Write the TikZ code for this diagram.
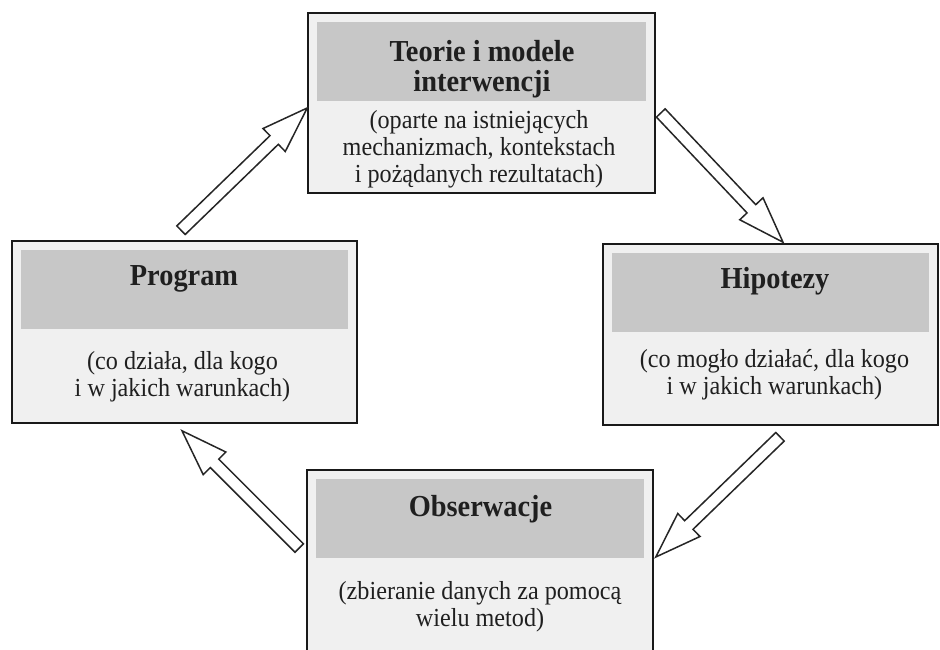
\documentclass[tikz,border=0pt]{standalone}
\usepackage{fontspec}
\usetikzlibrary{calc}
\newfontfamily\boxfont[FakeStretch=0.93]{Liberation Serif}

% outlined block arrow from #1 (tail) to #2 (tip)
\newcommand\blockarrow[2]{%
  \draw[blockarrow] let \p1=($(#2)-(#1)$), \n1={atan2(\y1,\x1)}, \n2={veclen(\x1,\y1)} in
    ($(#1)+(\n1-90:6pt)$) -- ++(\n1:{\n2*1pt-46pt}) -- ++(\n1-90:10pt) -- (#2)
    -- ($(#2)+(\n1+180:46pt)+(\n1+90:16pt)$) -- ++(\n1-90:10pt)
    -- ($(#1)+(\n1+90:6pt)$) -- cycle;}

\tikzset{
  box/.style={draw=black!90, line width=1.6pt, fill=black!6, inner sep=0pt},
  header/.style={fill=black!22},
  titletext/.style={font=\boxfont\bfseries\fontsize{30.5}{30}\selectfont, align=center, inner sep=0pt, text=black!88},
  bodytext/.style={font=\boxfont\fontsize{26}{27}\selectfont, align=center, inner sep=0pt, text=black!88},
  blockarrow/.style={draw=black!85, line width=1.5pt, fill=white, line join=miter}
}

\begin{document}
\begin{tikzpicture}[x=1pt,y=1pt]
\useasboundingbox[fill=white] (0,0) rectangle (940,649);

% boxes
\node[box, minimum width=347pt, minimum height=180pt] (teorie) at (481.5,546) {};
\node[box, minimum width=345pt, minimum height=182pt] (program) at (184.5,317) {};
\node[box, minimum width=335pt, minimum height=181pt] (hipotezy) at (770.5,314.5) {};
\node[box, minimum width=346pt, minimum height=195pt] (obserwacje) at (480,81.5) {};

% grey header bands
\foreach \b in {teorie,program,hipotezy,obserwacje}
  \fill[header] ($(\b.north west)+(10,-10)$) rectangle ($(\b.north east)+(-10,-89)$);

% texts
\node[titletext] (t1) at (482,579.5) {Teorie i modele\\interwencji};
\node[bodytext] (b1) at (479,500) {(oparte na istniejących\\mechanizmach, kontekstach\\i pożądanych rezultatach)};

\node[titletext] (t2) at (184,370.5) {Program};
\node[bodytext] (b2) at (182.5,272) {(co działa, dla kogo\\i w jakich warunkach)};

\node[titletext] (t3) at (775,367.5) {Hipotezy};
\node[bodytext] (b3) at (774.5,274) {(co mogło działać, dla kogo\\i w jakich warunkach)};

\node[titletext] (t4) at (480.5,139.5) {Obserwacje};
\node[bodytext] (b4) at (480,42) {(zbieranie danych za pomocą\\wielu metod)};

% arrow end points
\coordinate (a1s) at ($(program.north)+(-3.5,10)$);
\coordinate (a1e) at ($(teorie.west)+(0,-5)$);
\coordinate (a2s) at ($(teorie.east)+(5,-10)$);
\coordinate (a2e) at ($(hipotezy.north)+(12.5,1)$);
\coordinate (a3s) at ($(hipotezy.south)+(9.5,-11)$);
\coordinate (a3e) at ($(obserwacje.east)+(2,10.5)$);
\coordinate (a4s) at ($(obserwacje.west)+(-7,19.5)$);
\coordinate (a4e) at ($(program.south)+(-2.5,-7)$);

\blockarrow{a1s}{a1e}
\blockarrow{a2s}{a2e}
\blockarrow{a3s}{a3e}
\blockarrow{a4s}{a4e}
\end{tikzpicture}
\end{document}
